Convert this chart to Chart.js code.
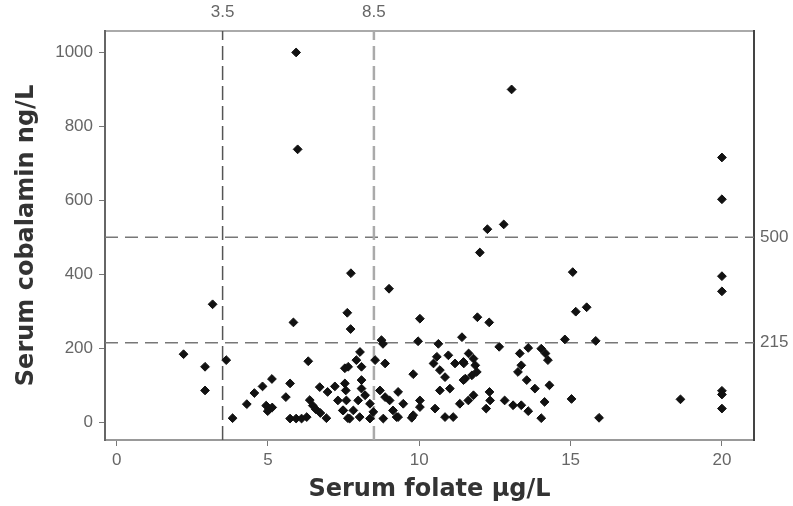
<!DOCTYPE html>
<html>
<head>
<meta charset="utf-8">
<script src="https://cdn.jsdelivr.net/npm/chart.js@4/dist/chart.umd.min.js"></script>
<style>
html,body{margin:0;padding:0;background:#fff;}
#wrap{width:793px;height:506px;}
</style>
</head>
<body>
<div id="wrap"><canvas id="c" width="793" height="506"></canvas></div>
<script>
// Serum folate (µg/L)
const folate = [2.21,2.92,2.92,3.17,3.62,3.83,4.3,4.55,4.82,5.13,4.94,5.04,5.14,4.99,5.59,5.73,5.84,5.93,5.98,5.73,5.93,6.11,6.28,6.33,6.38,6.48,6.58,6.73,6.71,6.93,6.97,7.21,7.31,7.57,7.47,7.64,7.54,7.62,7.73,7.74,8.04,7.92,8.54,8.87,7.65,8.09,8.75,8.8,9.0,7.54,8.09,8.09,8.21,7.98,7.59,7.49,7.82,7.7,8.03,8.37,8.48,8.37,8.7,8.87,9.02,9.3,9.13,9.47,8.81,9.3,9.8,9.75,9.25,10.02,10.02,10.52,10.85,11.12,11.34,11.62,10.02,9.96,10.63,11.41,9.8,10.58,10.96,11.18,11.47,10.47,10.68,10.85,11.52,10.68,11.01,11.92,12.31,12.0,12.25,12.79,13.05,12.64,13.6,14.81,13.32,14.03,14.17,14.25,11.63,11.79,11.46,11.85,13.37,13.26,11.9,11.74,11.46,13.55,13.82,14.3,11.79,12.32,12.34,12.21,12.82,13.1,13.37,13.6,14.14,14.03,15.03,15.07,15.17,15.53,15.83,15.94,18.63,20,20,20,20,20,20,20];
// Serum cobalamin (ng/L)
const cobalamin = [184,150,86,319,168,11,49,79,97,117,45,35,40,30,68,105,270,1000,738,10,10,10,14,165,60,45,35,25,95,11,82,97,59,86,32,11,146,296,252,403,190,168,168,159,150,150,222,212,361,105,114,91,73,59,59,32,32,10,14,50,28,10,86,68,59,82,32,50,10,14,19,12,14,59,41,37,14,14,50,59,280,219,212,230,130,177,181,159,159,159,141,122,118,86,91,284,270,459,522,535,900,204,201,224,186,199,186,168,186,172,163,154,154,136,136,127,114,114,91,100,73,82,59,37,59,46,46,30,55,11,63,406,299,311,220,12,62,716,603,395,354,85,75,37];

const xTicks = [0,5,10,15,20];
const yTicks = [0,200,400,600,800,1000];
const folateCutoffs = [3.5, 8.5];
const cobalaminCutoffs = [500, 215];

const X_MIN = -0.386, X_MAX = 21.06, Y_MIN = -48, Y_MAX = 1058;

const points = folate.map((x,i)=>({x:x, y:cobalamin[i]}));

const tickFont = {family:"'Liberation Sans',Arial,sans-serif", size:17};
const titleFont = {family:"'DejaVu Sans',Verdana,sans-serif", size:24, weight:'bold'};

const vStyles = [{c:'#555', w:1.5, d:[14,6]}, {c:'#aaa', w:2.5, d:[14,6]}];
const lineSets = [];
folateCutoffs.forEach((v,i)=>{
  lineSets.push({type:'line', data:[{x:v,y:Y_MIN},{x:v,y:Y_MAX}], borderColor:vStyles[i].c, borderWidth:vStyles[i].w, borderDash:vStyles[i].d, pointRadius:0, fill:false, order:2});
});
cobalaminCutoffs.forEach(v=>{
  lineSets.push({type:'line', data:[{x:X_MIN,y:v},{x:X_MAX,y:v}], borderColor:'#777', borderWidth:1.5, borderDash:[13,7], pointRadius:0, fill:false, order:2});
});

const fixTicks = arr => axis => { axis.ticks = arr.map(v=>({value:v})); };
const plain = v => String(v);

new Chart(document.getElementById('c'), {
  type:'scatter',
  data:{datasets:[
    {data:points, pointStyle:'rectRot', radius:4.4, backgroundColor:'#111', borderColor:'#111', borderWidth:1, order:1},
    ...lineSets
  ]},
  options:{
    responsive:false, animation:false, devicePixelRatio:1,
    layout:{padding:0},
    plugins:{legend:{display:false}, tooltip:{enabled:false}},
    scales:{
      x:{type:'linear', position:'bottom', min:X_MIN, max:X_MAX,
        afterBuildTicks:fixTicks(xTicks),
        afterFit:s=>{s.height=66;},
        grid:{drawOnChartArea:false, drawTicks:true, tickLength:6, color:'#777'},
        border:{color:'#999', width:2},
        ticks:{color:'#666', font:tickFont, padding:4, maxRotation:0, callback:plain},
        title:{display:true, text:'Serum folate µg/L', color:'#333', font:titleFont, padding:{top:0,bottom:2}}
      },
      x2:{type:'linear', position:'top', min:X_MIN, max:X_MAX,
        afterBuildTicks:fixTicks(folateCutoffs),
        afterFit:s=>{s.height=31;},
        grid:{display:false, drawTicks:false},
        border:{color:'#aaa', width:2},
        ticks:{color:'#666', font:tickFont, padding:8, maxRotation:0, callback:v=>v.toFixed(1)}
      },
      y:{type:'linear', position:'left', min:Y_MIN, max:Y_MAX,
        afterBuildTicks:fixTicks(yTicks),
        afterFit:s=>{s.width=105;},
        grid:{drawOnChartArea:false, drawTicks:true, tickLength:6, color:'#777'},
        border:{color:'#666', width:2},
        ticks:{color:'#666', font:tickFont, padding:6, callback:plain},
        title:{display:true, text:'Serum cobalamin ng/L', color:'#333', font:titleFont, padding:{top:12,bottom:0}}
      },
      y2:{type:'linear', position:'right', min:Y_MIN, max:Y_MAX,
        afterBuildTicks:fixTicks(cobalaminCutoffs),
        afterFit:s=>{s.width=39;},
        grid:{display:false, drawTicks:false},
        border:{color:'#444', width:2},
        ticks:{color:'#666', font:tickFont, padding:6, callback:plain}
      }
    }
  }
});
</script>
</body>
</html>
